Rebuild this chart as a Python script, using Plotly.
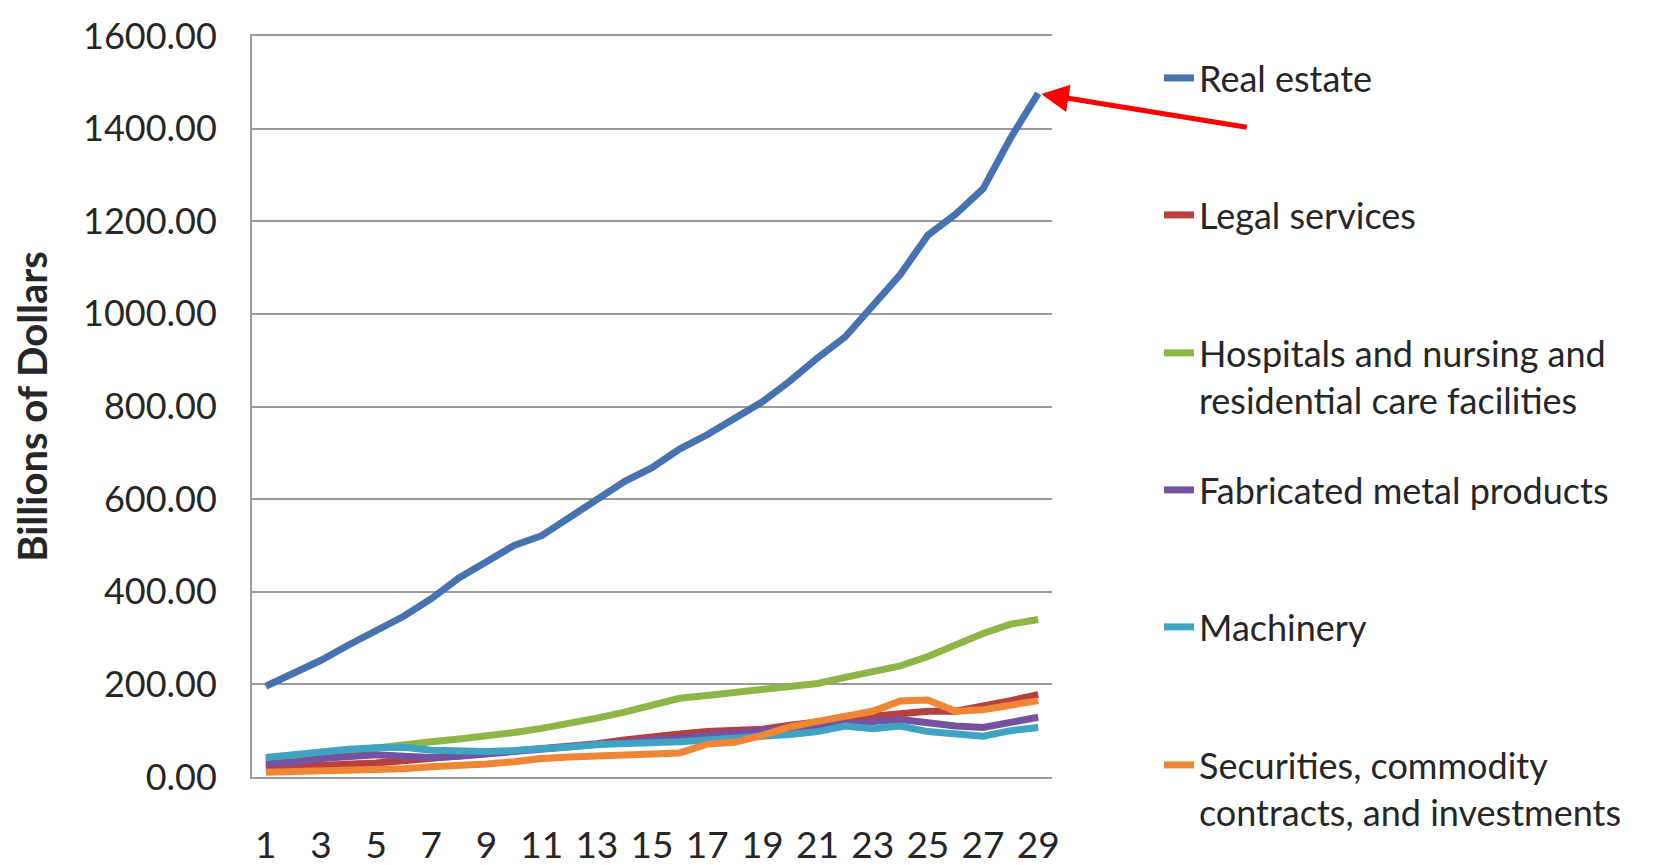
import plotly.graph_objects as go

# ---------------- data ----------------
periods = list(range(1, 30))
x_tick_vals = list(range(1, 30, 2))
x_tick_text = [str(v) for v in x_tick_vals]
y_tick_vals = [0, 200, 400, 600, 800, 1000, 1200, 1400, 1600]
y_tick_text = [f"{v:.2f}" for v in y_tick_vals]

series_names = [
    "Real estate",
    "Legal services",
    "Hospitals and nursing and<br>residential care facilities",
    "Fabricated metal products",
    "Machinery",
    "Securities, commodity<br>contracts, and investments",
]

real_estate = [196, 222, 252, 285, 318, 347, 385, 430, 465, 500, 521, 560, 600, 638, 668,
               708, 739, 775, 810, 855, 905, 950, 1020, 1085, 1170, 1215, 1270, 1380, 1476]
legal_services = [20, 22, 25, 28, 30, 35, 40, 45, 50, 55, 60, 67, 72, 80, 88,
                  93, 98, 100, 103, 112, 120, 126, 131, 137, 142, 142, 152, 165, 178]
hospitals = [35, 42, 50, 58, 65, 70, 76, 82, 88, 96, 105, 115, 127, 140, 155,
             170, 176, 183, 188, 195, 202, 215, 226, 240, 260, 285, 310, 330, 340]
fabricated_metal = [28, 32, 40, 45, 48, 45, 42, 45, 50, 55, 60, 67, 72, 78, 82,
                    88, 92, 96, 100, 106, 112, 118, 120, 124, 116, 110, 107, 118, 129]
machinery = [42, 48, 55, 60, 63, 64, 58, 55, 55, 57, 60, 65, 70, 72, 72,
             76, 80, 84, 86, 92, 98, 110, 104, 110, 98, 93, 88, 100, 107]
securities = [10, 11, 12, 13, 15, 18, 22, 24, 28, 33, 40, 43, 45, 45, 48,
              52, 71, 75, 90, 108, 120, 132, 142, 164, 166, 142, 145, 155, 165]

series_values = [real_estate, legal_services, hospitals, fabricated_metal, machinery, securities]
series_colors = ["#4672B0", "#B8403C", "#8DB646", "#7552A0", "#3FA3C3", "#EE8635"]

# ---------------- layout geometry ----------------
W, H = 1653, 865
ML, MR, MT, MB = 244, 609, 28, 96
PW, PH = W - ML - MR, H - MT - MB

FONT = "Lato, 'Liberation Sans', Arial, sans-serif"
TXT = "#262626"
GRID = "#9a9a9a"

legend_text_left_px = 1196
legend_first_line_px = [79, 216, 354, 491, 628, 766]

fig = go.Figure()
layout_legends = {}
for i, (name, vals, col) in enumerate(zip(series_names, series_values, series_colors)):
    lg = "legend" if i == 0 else f"legend{i + 1}"
    fig.add_trace(go.Scatter(
        x=periods, y=vals, name=name, mode="lines",
        line=dict(color=col, width=7),
        legend=lg,
    ))
    top_px = legend_first_line_px[i] - 39
    layout_legends[lg] = dict(
        x=(legend_text_left_px - 45 - ML) / PW,
        y=(H - MB - top_px) / PH,
        xanchor="left", yanchor="top",
        bgcolor="rgba(0,0,0,0)", borderwidth=0,
        valign="top",
        font=dict(family=FONT, size=36, color=TXT),
    )

fig.update_layout(
    width=W, height=H,
    margin=dict(l=ML, r=MR, t=MT, b=MB, autoexpand=False),
    paper_bgcolor="white", plot_bgcolor="white",
    font=dict(family=FONT, color=TXT),
    showlegend=True,
    **layout_legends,
)

fig.update_xaxes(
    range=[0.5, 29.5],
    tickmode="array", tickvals=x_tick_vals, ticktext=x_tick_text,
    showgrid=False, zeroline=False,
    showline=True, linecolor=GRID, linewidth=2, mirror=True,
    ticks="", ticklabelstandoff=35,
    tickfont=dict(family=FONT, size=37, color=TXT),
)
fig.update_yaxes(
    range=[0, 1600],
    tickmode="array", tickvals=y_tick_vals, ticktext=y_tick_text,
    showgrid=True, gridcolor=GRID, gridwidth=2,
    zeroline=False,
    showline=True, linecolor=GRID, linewidth=2,
    ticks="", ticklabelstandoff=26, ticklabeloverflow="allow",
    tickfont=dict(family=FONT, size=36, color=TXT),
    title=dict(text="<b>Billions of Dollars</b>", standoff=36,
               font=dict(family=FONT, size=40, color=TXT)),
)

# red arrow pointing at the last Real estate value
fig.add_annotation(
    x=periods[-1], y=real_estate[-1], xref="x", yref="y",
    text="", showarrow=True,
    ax=210, ay=34, axref="pixel", ayref="pixel",
    arrowcolor="#FF0000", arrowwidth=5, arrowhead=2, arrowsize=1.1,
    standoff=3,
)

fig.write_html("out.html")
